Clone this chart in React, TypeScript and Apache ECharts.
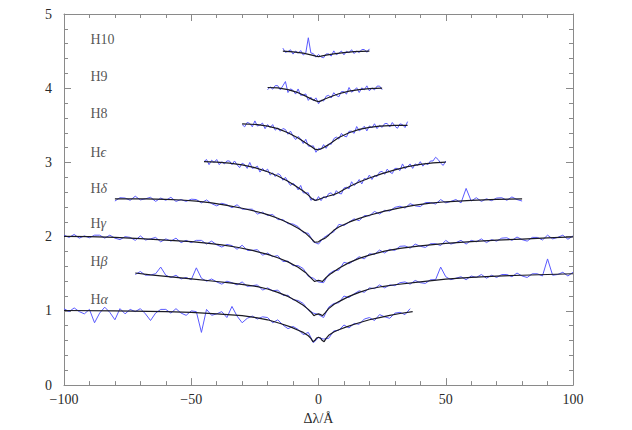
import React, { useEffect, useRef } from 'react';
import * as echarts from 'echarts';

// Line names, vertical offsets and label heights
const lineLabels = ['Hα', 'Hβ', 'Hγ', 'Hδ', 'Hϵ', 'H8', 'H9', 'H10'];
const offsets = [0, 0.5, 1, 1.5, 2, 2.5, 3, 3.5];
const labelY = [1.15, 1.67, 2.18, 2.65, 3.14, 3.66, 4.16, 4.66];
const labelX = -89.6;

// Observed spectra: normalised flux on a uniform Δλ grid
const obsStart = [-100, -72, -100, -80, -45, -30, -20, -14];
const obsStep = [2, 2, 2, 2, 1, 1, 1, 1];

const obsHa = [
  1.03, 0.99, 1.04, 0.99, 0.96, 1.02, 0.84, 0.97, 1.05, 0.98,
  0.88, 1.03, 0.96, 1.02, 0.99, 1.03, 0.96, 0.87, 0.97, 1.02,
  1.02, 0.97, 1.03, 0.97, 0.94, 1.0, 0.99, 0.71, 1.02, 0.94,
  0.96, 0.99, 0.91, 1.06, 0.93, 0.84, 0.9, 0.93, 0.89, 0.92,
  0.91, 0.84, 0.88, 0.81, 0.76, 0.79, 0.75, 0.68, 0.71, 0.57,
  0.64, 0.62, 0.63, 0.73, 0.74, 0.81, 0.77, 0.83, 0.82, 0.89,
  0.91, 0.87, 0.95, 0.92, 0.9, 0.97, 0.98, 0.95, 1.03,
];
const obsHb = [
  0.99, 1.03, 0.98, 0.985, 1.0, 1.09, 0.98, 0.95, 0.98, 0.93,
  0.95, 0.92, 1.08, 0.94, 0.9, 0.93, 0.89, 0.86, 0.9, 0.88,
  0.85, 0.89, 0.83, 0.84, 0.85, 0.78, 0.81, 0.77, 0.78, 0.71,
  0.71, 0.65, 0.64, 0.6, 0.51, 0.47, 0.45, 0.41, 0.55, 0.6,
  0.61, 0.7, 0.68, 0.73, 0.77, 0.75, 0.81, 0.8, 0.85, 0.81,
  0.85, 0.84, 0.88, 0.89, 0.86, 0.91, 0.88, 0.87, 0.92, 0.92,
  1.09, 0.96, 0.92, 0.94, 0.96, 0.92, 0.97, 0.95, 0.99, 0.94,
  0.98, 0.95, 0.99, 0.99, 0.96, 1.01, 0.97, 0.95, 1.0, 1.0,
  0.97, 1.2, 0.98, 0.99, 1.02, 0.97, 1.02,
];
const obsHg = [
  1.02, 0.99, 1.03, 0.98, 1.01, 0.985, 1.02, 1.02, 0.98, 1.02,
  0.98, 0.96, 1.0, 0.99, 0.95, 1.01, 0.955, 0.97, 0.99, 0.93,
  0.97, 0.94, 0.98, 0.92, 0.95, 0.92, 0.95, 0.95, 0.9, 0.94,
  0.89, 0.86, 0.895, 0.88, 0.83, 0.885, 0.815, 0.815, 0.825, 0.75,
  0.78, 0.73, 0.745, 0.665, 0.67, 0.61, 0.61, 0.57, 0.465, 0.44,
  0.39, 0.38, 0.495, 0.54, 0.55, 0.655, 0.635, 0.68, 0.73, 0.7,
  0.77, 0.76, 0.82, 0.78, 0.83, 0.815, 0.87, 0.875, 0.845, 0.9,
  0.87, 0.855, 0.905, 0.905, 0.88, 0.95, 0.9, 0.92, 0.95, 0.9,
  0.95, 0.93, 0.97, 0.92, 0.96, 0.94, 0.98, 0.985, 0.95, 0.995,
  0.96, 0.94, 0.99, 0.99, 0.955, 1.02, 0.97, 0.99, 1.02, 0.965,
  1.01,
];
const obsHd = [
  0.98, 1.025, 1.02, 0.99, 1.045, 0.995, 1.01, 1.03, 0.975, 1.02,
  0.99, 1.03, 0.975, 1.0, 0.975, 1.005, 1.0, 0.955, 0.995, 0.945,
  0.915, 0.95, 0.93, 0.89, 0.93, 0.87, 0.87, 0.87, 0.805, 0.83,
  0.785, 0.8, 0.73, 0.73, 0.675, 0.67, 0.635, 0.555, 0.545, 0.43,
  0.4, 0.485, 0.53, 0.565, 0.665, 0.65, 0.695, 0.74, 0.715, 0.785,
  0.78, 0.84, 0.805, 0.855, 0.845, 0.895, 0.91, 0.885, 0.945, 0.915,
  0.905, 0.96, 0.96, 0.94, 1.0, 0.955, 0.975, 1.0, 0.955, 1.15,
  0.98, 1.025, 0.975, 1.01, 0.985, 1.02, 1.025, 0.99, 1.035, 1.0,
  0.98,
];
const obsHe = [
  1.01, 1.04, 0.97, 1.03, 1.0, 1.04, 0.97, 1.01, 0.98, 1.02,
  1.02, 0.97, 1.02, 0.97, 0.93, 0.99, 0.97, 0.92, 1.0, 0.92,
  0.93, 0.95, 0.87, 0.92, 0.88, 0.91, 0.83, 0.86, 0.81, 0.85,
  0.83, 0.76, 0.8, 0.74, 0.69, 0.72, 0.69, 0.63, 0.69, 0.59,
  0.59, 0.59, 0.49, 0.515, 0.48, 0.54, 0.485, 0.54, 0.52, 0.58,
  0.59, 0.55, 0.62, 0.585, 0.575, 0.655, 0.665, 0.645, 0.74, 0.69,
  0.72, 0.77, 0.71, 0.785, 0.77, 0.83, 0.77, 0.825, 0.81, 0.87,
  0.88, 0.84, 0.91, 0.87, 0.85, 0.92, 0.92, 0.89, 0.98, 0.915,
  0.943, 0.98, 0.92, 0.98, 0.96, 1.01, 0.95, 0.99, 0.97, 1.02,
  1.02, 1.07, 1.04, 0.99, 0.96, 1.02,
];
const obsH8 = [
  1.01, 0.98, 1.04, 1.025, 0.98, 1.06, 0.99, 1.005, 1.03, 0.955,
  1.01, 0.97, 1.01, 0.935, 0.965, 0.92, 0.957, 0.944, 0.88, 0.922,
  0.855, 0.808, 0.85, 0.817, 0.755, 0.812, 0.72, 0.718, 0.723, 0.637,
  0.69, 0.675, 0.74, 0.69, 0.75, 0.745, 0.82, 0.842, 0.815, 0.891,
  0.858, 0.844, 0.92, 0.921, 0.892, 0.984, 0.925, 0.952, 0.988, 0.925,
  0.992, 0.966, 1.021, 0.956, 1.0, 0.972, 1.023, 1.025, 0.977, 1.038,
  0.99, 0.96, 1.02, 1.01, 0.97, 1.05,
];
const obsH9 = [
  0.98, 1.018, 0.987, 1.035, 1.034, 0.978, 1.033, 1.09, 0.942, 0.992,
  0.971, 0.921, 0.99, 0.904, 0.909, 0.923, 0.836, 0.879, 0.833, 0.87,
  0.79, 0.84, 0.827, 0.892, 0.905, 0.868, 0.94, 0.903, 0.885, 0.954,
  0.953, 0.921, 1.01, 0.946, 0.971, 1.007, 0.942, 1.005, 0.979, 1.032,
  0.965, 1.006, 0.977, 1.028, 1.029, 0.98,
];
const obsH10 = [
  1.04, 0.983, 0.995, 1.018, 0.96, 1.001, 0.971, 1.007, 0.947, 0.975,
  1.18, 0.975, 0.966, 0.918, 0.955, 0.922, 0.91, 0.962, 0.962, 0.933,
  1.003, 0.952, 0.971, 1.001, 0.95, 0.998, 0.976, 1.019, 0.967, 1.003,
  0.98, 1.021, 1.022, 0.984, 1.03,
];
const observed = [obsHa, obsHb, obsHg, obsHd, obsHe, obsH8, obsH9, obsH10];

// Model fits: [Δλ, normalised flux]
const modelHa = [
  [-100, 1.005], [-80, 1.0], [-60, 0.99], [-50, 0.98], [-40, 0.96], [-30, 0.935], [-24, 0.905],
  [-20, 0.88], [-15, 0.83], [-11, 0.785], [-8, 0.74], [-6, 0.71], [-4, 0.665], [-3, 0.63],
  [-2.2, 0.585], [-1.5, 0.6], [-0.7, 0.635], [0, 0.645], [0.7, 0.635], [1.5, 0.6], [2.2, 0.585],
  [3, 0.63], [4, 0.67], [6, 0.715], [8, 0.745], [11, 0.785], [15, 0.83], [20, 0.88], [24, 0.91],
  [28, 0.94], [32, 0.965], [37, 0.99],
];
const modelHb = [
  [-72, 1.01], [-66, 0.985], [-60, 0.965], [-50, 0.932], [-40, 0.896], [-34, 0.874], [-28, 0.848],
  [-24, 0.826], [-20, 0.795], [-16, 0.75], [-12, 0.695], [-9, 0.64], [-6, 0.575], [-4, 0.52],
  [-3, 0.485], [-1.8, 0.435], [-1, 0.45], [0, 0.46], [0.8, 0.45], [1.6, 0.435], [2.5, 0.47],
  [4, 0.53], [6, 0.585], [8, 0.625], [12, 0.695], [16, 0.75], [20, 0.795], [25, 0.828], [30, 0.852],
  [40, 0.892], [50, 0.927], [60, 0.952], [70, 0.969], [80, 0.98], [90, 0.99], [100, 1.0],
];
const modelHg = [
  [-100, 1.005], [-90, 1.0], [-80, 0.99], [-70, 0.974], [-60, 0.953], [-50, 0.934], [-44, 0.914],
  [-38, 0.889], [-32, 0.857], [-26, 0.816], [-20, 0.762], [-16, 0.716], [-12, 0.66], [-8, 0.588],
  [-5, 0.515], [-3, 0.445], [-1.5, 0.395], [-0.8, 0.405], [0, 0.41], [0.8, 0.405], [1.5, 0.395],
  [3, 0.45], [5, 0.505], [8, 0.575], [12, 0.65], [16, 0.707], [20, 0.752], [26, 0.805], [32, 0.842],
  [40, 0.877], [50, 0.909], [60, 0.933], [70, 0.953], [80, 0.968], [90, 0.983], [100, 0.998],
];
const modelHd = [
  [-80, 1.01], [-68, 1.01], [-60, 1.002], [-54, 0.994], [-48, 0.979], [-42, 0.955], [-36, 0.922],
  [-30, 0.883], [-24, 0.835], [-20, 0.796], [-16, 0.748], [-12, 0.688], [-8, 0.614], [-5, 0.545],
  [-3, 0.48], [-1.5, 0.425], [0, 0.43], [1, 0.455], [2, 0.47], [3, 0.49], [4, 0.52], [6, 0.585],
  [8, 0.63], [12, 0.695], [16, 0.746], [20, 0.789], [26, 0.843], [32, 0.888], [38, 0.924],
  [44, 0.951], [50, 0.97], [60, 0.99], [70, 1.002], [80, 1.008],
];
const modelHe = [
  [-45, 1.01], [-40, 1.004], [-35, 0.99], [-30, 0.967], [-25, 0.93], [-20, 0.874], [-16, 0.817],
  [-12, 0.746], [-9, 0.684], [-6, 0.614], [-4, 0.56], [-2.5, 0.51], [-1.5, 0.49], [0, 0.5],
  [1, 0.515], [2, 0.528], [4, 0.548], [6, 0.566], [8, 0.595], [10, 0.635], [13, 0.69], [16, 0.737],
  [20, 0.791], [25, 0.849], [30, 0.9], [35, 0.943], [40, 0.974], [45, 0.993], [50, 1.004],
];
const modelH8 = [
  [-30, 1.02], [-24, 1.01], [-20, 0.99], [-16, 0.955], [-12, 0.9], [-8, 0.83], [-5, 0.762],
  [-3, 0.718], [-1.5, 0.68], [0, 0.67], [1, 0.685], [2, 0.7], [4, 0.74], [6, 0.79], [8, 0.835],
  [12, 0.9], [16, 0.945], [20, 0.972], [24, 0.99], [30, 1.0], [35, 1.0],
];
const modelH9 = [
  [-20, 1.01], [-16, 1.004], [-12, 0.982], [-8, 0.94], [-5, 0.893], [-2.5, 0.85], [-1, 0.83],
  [0, 0.82], [1, 0.83], [2.5, 0.855], [5, 0.888], [8, 0.925], [12, 0.96], [16, 0.982], [20, 0.995],
  [25, 1.0],
];
const modelH10 = [
  [-14, 1.0], [-10, 0.99], [-6, 0.972], [-3, 0.95], [-1, 0.933], [0, 0.925], [1, 0.932], [3, 0.947],
  [6, 0.963], [10, 0.98], [14, 0.992], [20, 1.0],
];
const models = [modelHa, modelHb, modelHg, modelHd, modelHe, modelH8, modelH9, modelH10];

const FONT = "'Liberation Serif', 'DejaVu Serif', serif";
const AXIS_COLOR = '#8a8a8a';
const TEXT_COLOR = '#2a2a2a';

const fmtTick = (v: number) => (v < 0 ? '\u2212' + Math.abs(v) : String(v));
const wrapGreek = (t: string) => t.replace(/([^\x00-\x7f]+)/g, '{g|$1}');

export default function App() {
  const ref = useRef<HTMLDivElement>(null);
  useEffect(() => {
    if (!ref.current) return;
    const chart = echarts.init(ref.current, undefined, { renderer: 'svg' });

    const axisCommon = {
      type: 'value' as const,
      axisLine: { show: true, onZero: false, lineStyle: { color: AXIS_COLOR, width: 1 } },
      axisTick: { show: true, inside: true, length: 7, lineStyle: { color: AXIS_COLOR } },
      minorTick: { show: true, splitNumber: 5, length: 4, lineStyle: { color: AXIS_COLOR } },
      splitLine: { show: false },
      minorSplitLine: { show: false },
    };

    const series: any[] = [];
    observed.forEach((arr, i) => {
      series.push({
        type: 'line',
        data: arr.map((v, k) => [obsStart[i] + k * obsStep[i], v + offsets[i]]),
        showSymbol: false,
        symbol: 'none',
        lineStyle: { color: '#5a5aff', width: 1 },
        z: 2,
        silent: true,
      });
    });
    models.forEach((arr, i) => {
      series.push({
        type: 'line',
        data: arr.map(([x, y]) => [x, y + offsets[i]]),
        showSymbol: false,
        symbol: 'none',
        lineStyle: { color: '#1a1a24', width: 1.2 },
        z: 3,
        silent: true,
      });
    });
    series.push({
      type: 'scatter',
      symbolSize: 0,
      silent: true,
      data: lineLabels.map((t, i) => ({ value: [labelX, labelY[i]], name: t })),
      label: {
        show: true,
        position: 'right',
        distance: 0,
        formatter: (p: any) => wrapGreek(p.name),
        color: TEXT_COLOR,
        fontFamily: FONT,
        fontSize: 14,
        rich: {
          g: { fontStyle: 'italic', fontFamily: FONT, fontSize: 14, color: TEXT_COLOR },
        },
      },
      z: 4,
    });

    chart.setOption({
      animation: false,
      backgroundColor: '#ffffff',
      grid: { left: 64, right: 59, top: 14, bottom: 36, containLabel: false },
      xAxis: [
        {
          ...axisCommon,
          position: 'bottom',
          min: -100,
          max: 100,
          interval: 50,
          axisLabel: { formatter: fmtTick, fontFamily: FONT, fontSize: 14, lineHeight: 14, color: TEXT_COLOR, margin: 7 },
          name: 'Δλ/Å',
          nameLocation: 'middle',
          nameGap: 21,
          nameTextStyle: { fontFamily: FONT, fontSize: 14, color: TEXT_COLOR, verticalAlign: 'top' },
        },
        {
          ...axisCommon,
          position: 'top',
          min: -100,
          max: 100,
          interval: 50,
          axisLabel: { show: false },
        },
      ],
      yAxis: [
        {
          ...axisCommon,
          position: 'left',
          min: 0,
          max: 5,
          interval: 1,
          axisLabel: { formatter: fmtTick, fontFamily: FONT, fontSize: 14, lineHeight: 12, color: TEXT_COLOR, margin: 12 },
        },
        {
          ...axisCommon,
          position: 'right',
          min: 0,
          max: 5,
          interval: 1,
          axisLabel: { show: false },
        },
      ],
      series,
    });
    return () => chart.dispose();
  }, []);
  return <div ref={ref} style={{ position: 'fixed', left: 0, top: 0, width: 632, height: 430 }} />;
}
